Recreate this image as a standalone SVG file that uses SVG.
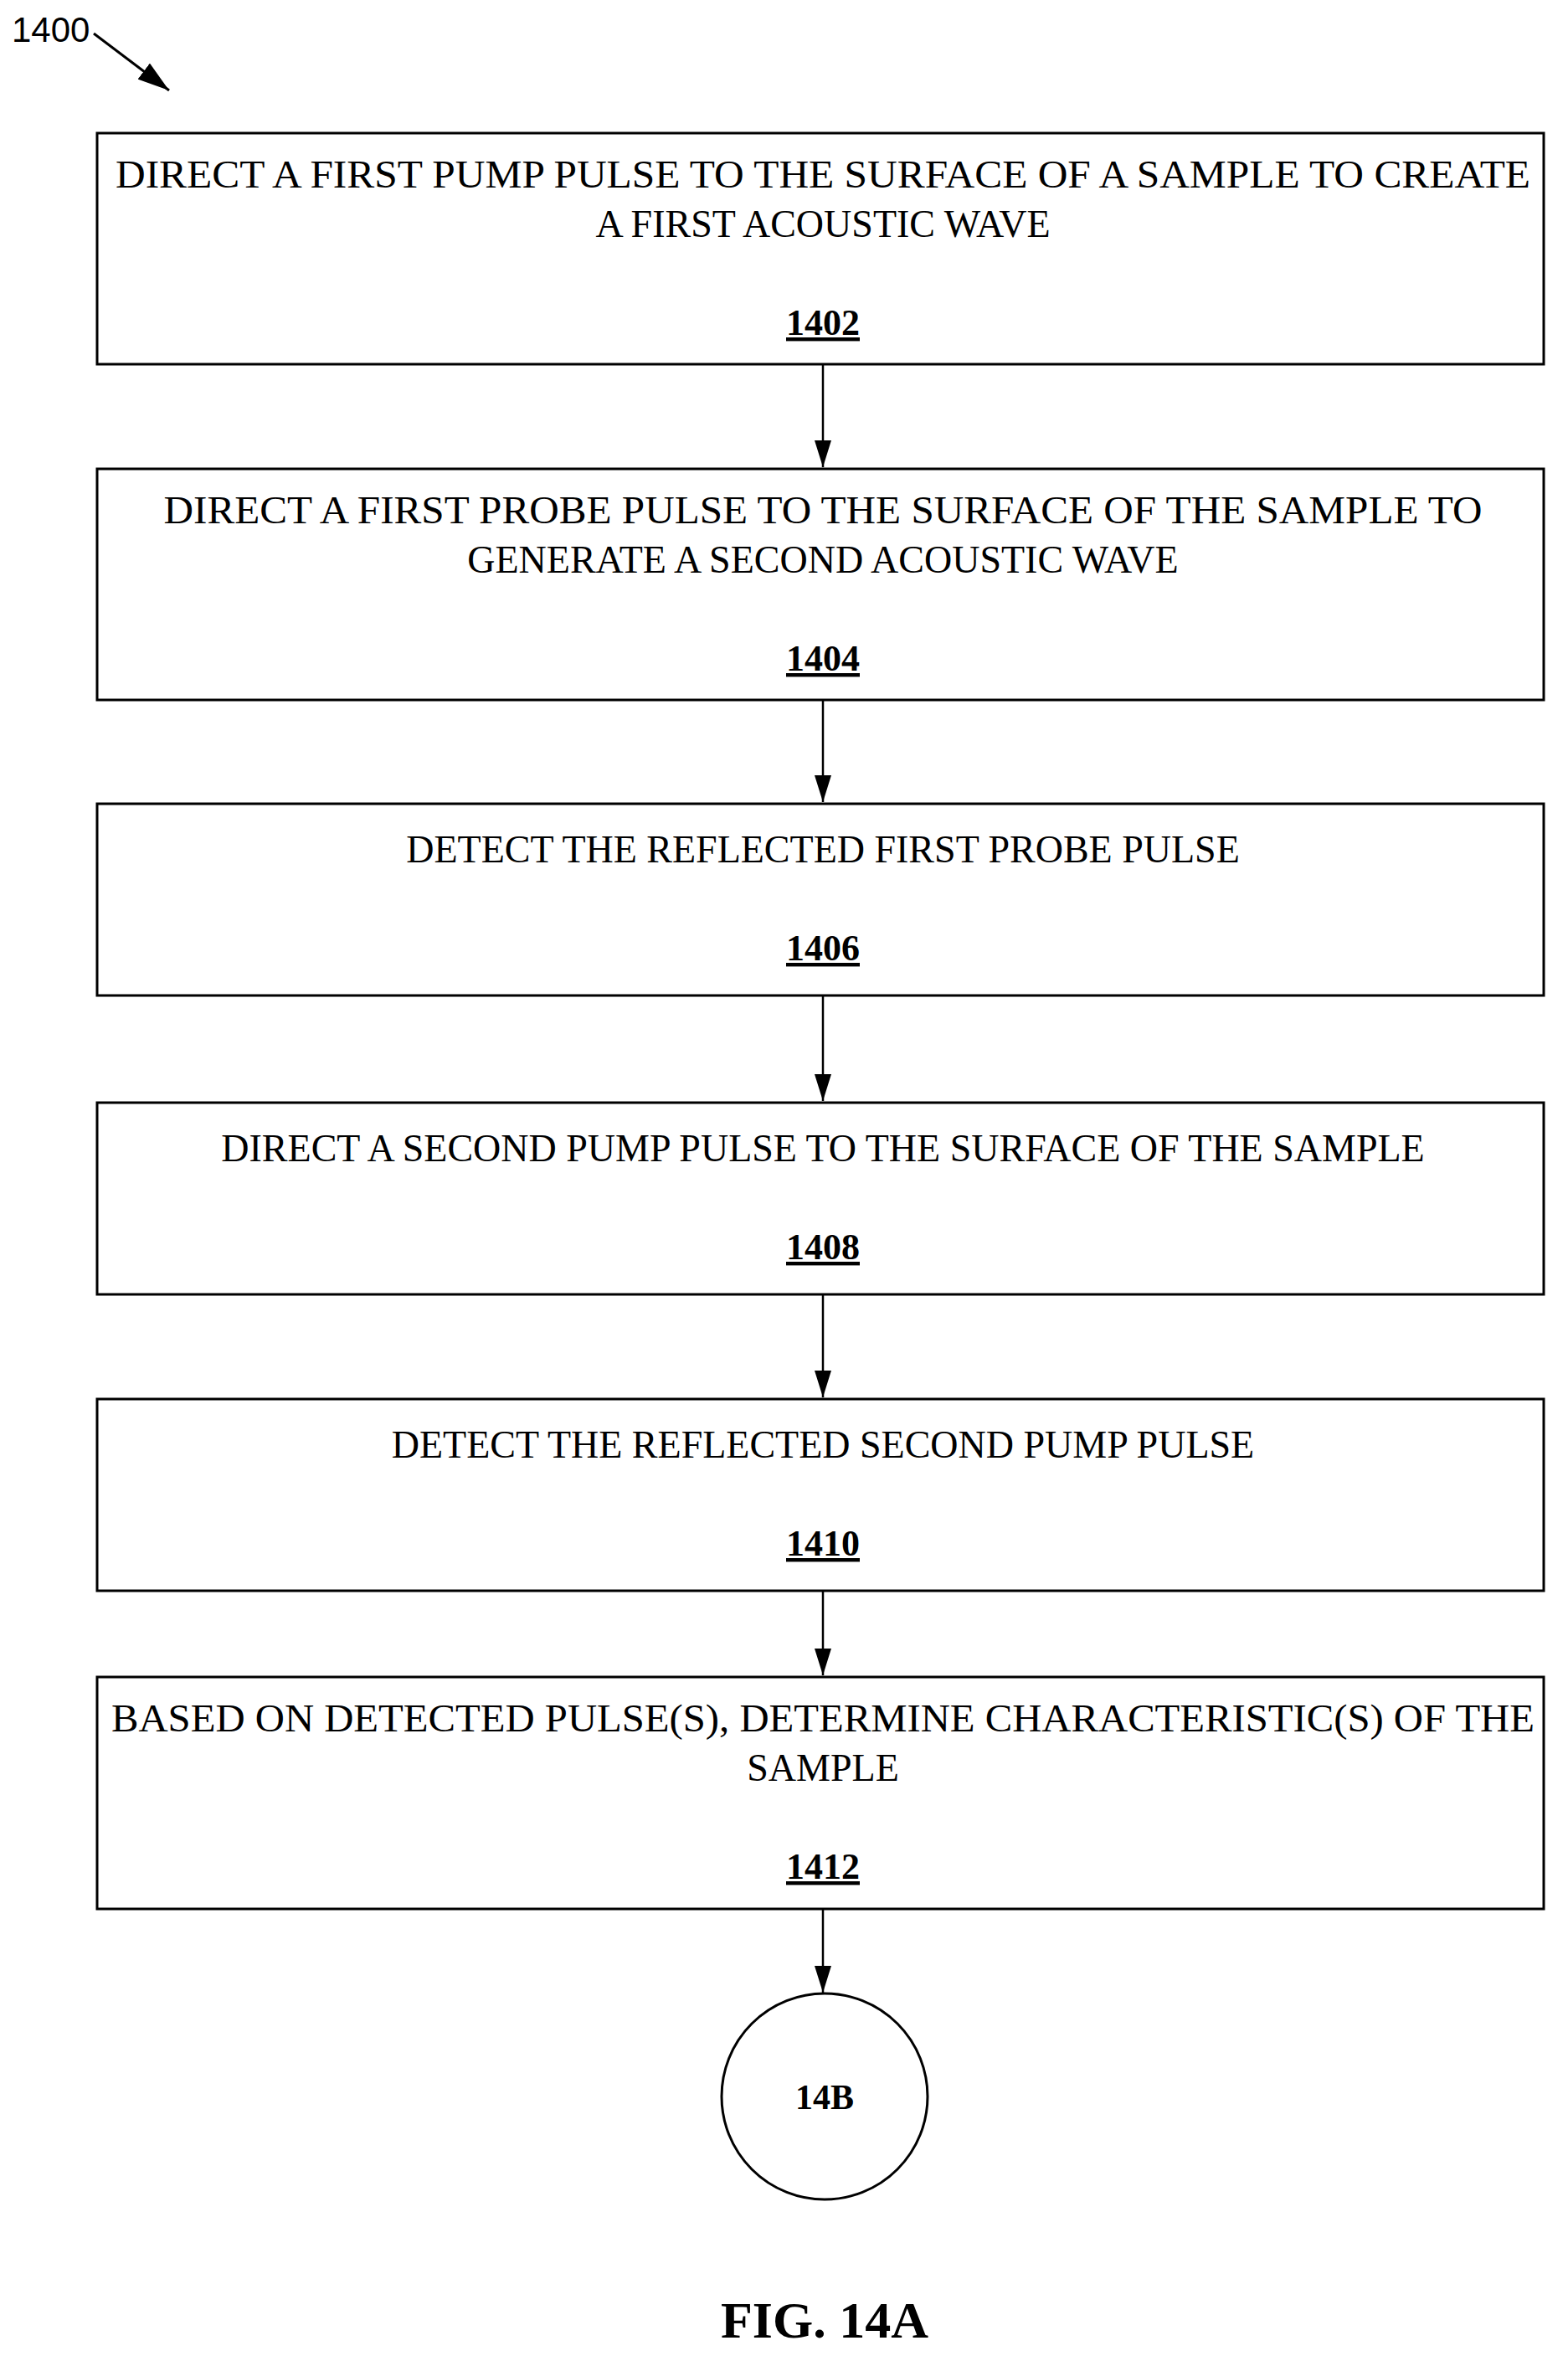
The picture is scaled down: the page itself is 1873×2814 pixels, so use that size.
<svg xmlns="http://www.w3.org/2000/svg" width="1873" height="2814" viewBox="0 0 1873 2814">
<style>
.b{fill:#fff;stroke:#000;stroke-width:3}
.t{font-family:"Liberation Serif",serif;font-size:46px;text-anchor:middle}
.n{font-family:"Liberation Serif",serif;font-size:44px;font-weight:bold;text-anchor:middle;text-decoration:underline}
.c line{stroke:#000;stroke-width:2.5}
</style>
<defs><marker id="a" markerWidth="32" markerHeight="20" refX="32" refY="10" orient="auto" markerUnits="userSpaceOnUse" viewBox="0 0 32 20"><path d="M0,0 L32,10 L0,20 z" fill="#000"/></marker>
<marker id="ah" markerWidth="38" markerHeight="24" refX="38" refY="12" orient="auto" markerUnits="userSpaceOnUse" viewBox="0 0 38 24"><path d="M0,0 L38,12 L0,24 z" fill="#000"/></marker></defs>
<rect width="1873" height="2814" fill="#fff"/>
<g id="label">
<text x="14" y="50" font-family="Liberation Sans,sans-serif" font-size="42">1400</text>
<line x1="112" y1="40" x2="202" y2="108" stroke="#000" stroke-width="3" marker-end="url(#ah)"/>
</g>
<g id="n1402"><rect class="b" x="116" y="159" width="1728" height="276"/>
<text class="t" x="983" y="224" textLength="1690" lengthAdjust="spacingAndGlyphs">DIRECT A FIRST PUMP PULSE TO THE SURFACE OF A SAMPLE TO CREATE</text>
<text class="t" x="983" y="283">A FIRST ACOUSTIC WAVE</text>
<text class="n" x="983" y="400">1402</text></g>
<g id="n1404"><rect class="b" x="116" y="560" width="1728" height="276"/>
<text class="t" x="983" y="625" textLength="1575" lengthAdjust="spacingAndGlyphs">DIRECT A FIRST PROBE PULSE TO THE SURFACE OF THE SAMPLE TO</text>
<text class="t" x="983" y="684">GENERATE A SECOND ACOUSTIC WAVE</text>
<text class="n" x="983" y="801">1404</text></g>
<g id="n1406"><rect class="b" x="116" y="960" width="1728" height="229"/>
<text class="t" x="983" y="1030">DETECT THE REFLECTED FIRST PROBE PULSE</text>
<text class="n" x="983" y="1147">1406</text></g>
<g id="n1408"><rect class="b" x="116" y="1317" width="1728" height="229"/>
<text class="t" x="983" y="1387">DIRECT A SECOND PUMP PULSE TO THE SURFACE OF THE SAMPLE</text>
<text class="n" x="983" y="1504">1408</text></g>
<g id="n1410"><rect class="b" x="116" y="1671" width="1728" height="229"/>
<text class="t" x="983" y="1741">DETECT THE REFLECTED SECOND PUMP PULSE</text>
<text class="n" x="983" y="1858">1410</text></g>
<g id="n1412"><rect class="b" x="116" y="2003" width="1728" height="277"/>
<text class="t" x="983" y="2068" textLength="1700" lengthAdjust="spacingAndGlyphs">BASED ON DETECTED PULSE(S), DETERMINE CHARACTERISTIC(S) OF THE</text>
<text class="t" x="983" y="2127">SAMPLE</text>
<text class="n" x="983" y="2244">1412</text></g>
<g id="c14B"><circle class="b" cx="985" cy="2504" r="123"/>
<text x="985" y="2519" font-family="Liberation Serif,serif" font-size="42" font-weight="bold" text-anchor="middle">14B</text></g>
<g id="connectors" class="c">
<line x1="983" y1="435" x2="983" y2="558" marker-end="url(#a)"/>
<line x1="983" y1="836" x2="983" y2="958" marker-end="url(#a)"/>
<line x1="983" y1="1189" x2="983" y2="1315" marker-end="url(#a)"/>
<line x1="983" y1="1546" x2="983" y2="1669" marker-end="url(#a)"/>
<line x1="983" y1="1900" x2="983" y2="2001" marker-end="url(#a)"/>
<line x1="983" y1="2280" x2="983" y2="2380" marker-end="url(#a)"/>
</g>
<text x="985" y="2792" font-family="Liberation Serif,serif" font-size="62" font-weight="bold" text-anchor="middle">FIG. 14A</text>
</svg>
